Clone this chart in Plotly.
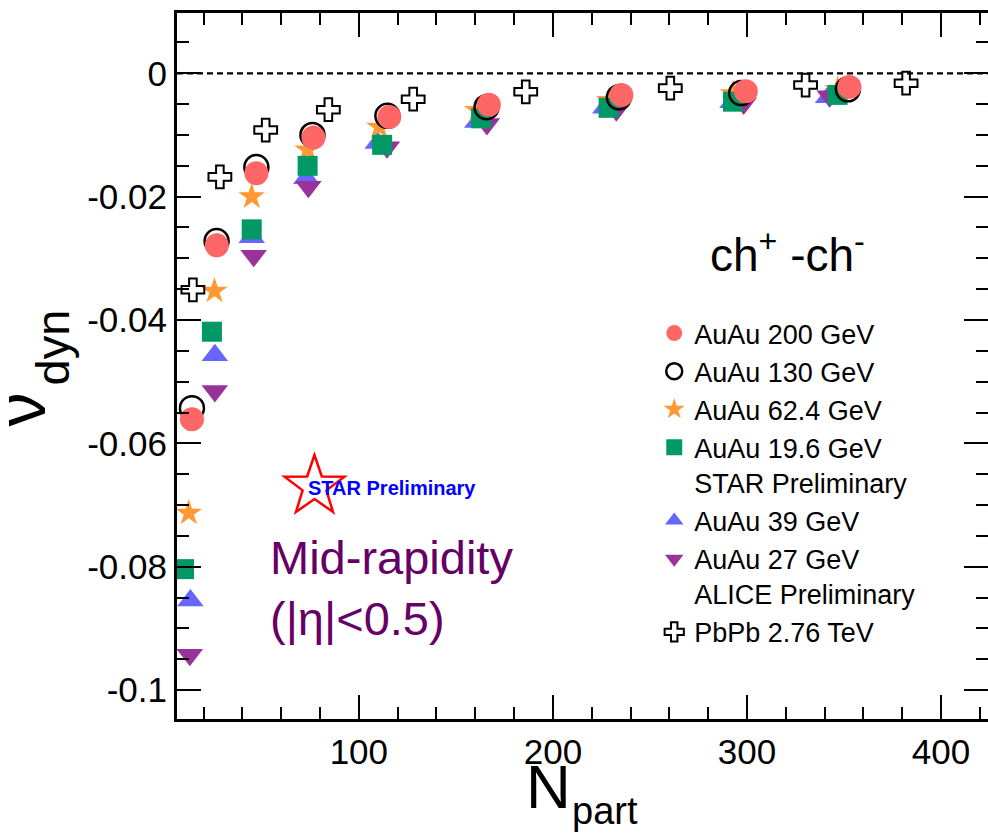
import numpy as np
import plotly.graph_objects as go

# ---------------- data ----------------
npart_200 = [14.0, 26.8, 47.2, 76.6, 115.7, 167.0, 235.3, 299.4, 352.8]
vdyn_200 = [-0.0561, -0.0279, -0.0162, -0.0104, -0.0071, -0.0051, -0.0035, -0.0029, -0.0022]

npart_130 = [14.0, 26.7, 47.2, 76.1, 114.7, 165.8, 234.0, 297.0, 352.0]
vdyn_130 = [-0.0543, -0.0272, -0.0152, -0.0100, -0.0069, -0.0055, -0.0039, -0.0032, -0.0026]

npart_624 = [12.4, 25.6, 44.8, 73.6, 110.5, 161.0, 229.0, 292.8, 346.7]
vdyn_624 = [-0.0713, -0.0353, -0.0200, -0.0124, -0.0087, -0.0060, -0.0044, -0.0033, -0.0026]

npart_196 = [9.9, 24.3, 44.8, 73.6, 112.0, 163.0, 228.7, 292.8, 346.7]
vdyn_196 = [-0.0804, -0.0419, -0.0253, -0.0150, -0.0116, -0.0073, -0.0056, -0.0046, -0.0035]

npart_39 = [13.2, 25.8, 44.8, 72.9, 109.7, 161.0, 227.0, 292.5, 341.8]
vdyn_39 = [-0.0855, -0.0457, -0.0266, -0.0170, -0.0113, -0.0079, -0.0056, -0.0047, -0.0039]

npart_27 = [12.9, 25.8, 45.8, 74.0, 114.5, 166.0, 232.7, 298.3, 342.6]
vdyn_27 = [-0.0943, -0.0515, -0.0296, -0.0184, -0.0120, -0.0082, -0.0060, -0.0049, -0.0037]

npart_pbpb = [14.5, 28.4, 52.0, 84.3, 128.0, 186.0, 260.5, 330.2, 382.0]
vdyn_pbpb = [-0.0351, -0.0168, -0.0092, -0.0059, -0.0042, -0.0030, -0.0024, -0.0019, -0.0016]

x_tickvals = [100, 200, 300, 400]
x_ticktext = ["100", "200", "300", "400"]
y_tickvals = [0, -0.02, -0.04, -0.06, -0.08, -0.1]
y_ticktext = ["0", "-0.02", "-0.04", "-0.06", "-0.08", "-0.1"]

# ---------------- figure ----------------
FONT = "Liberation Sans, Arial, Helvetica, sans-serif"
W, H = 991, 837          # frame's right edge lies just beyond the visible window, as in the reference
ML, MR, MT, MB = 177, 0, 13, 118

fig = go.Figure()

# drawing order: 39, 27, 62.4, 19.6, 130, 200, PbPb ; legend order via legendrank
series = [
    dict(x=npart_39, y=vdyn_39, name="AuAu 39 GeV", rank=5,
         marker=dict(symbol="triangle-up", size=23, color="#6666FF")),
    dict(x=npart_27, y=vdyn_27, name="AuAu 27 GeV<br>ALICE Preliminary", rank=6,
         marker=dict(symbol="triangle-down", size=23, color="#993399")),
    dict(x=npart_624, y=vdyn_624, name="AuAu 62.4 GeV", rank=3,
         marker=dict(symbol="star", size=20, color="#FF9933")),
    dict(x=npart_196, y=vdyn_196, name="AuAu 19.6 GeV<br>STAR Preliminary", rank=4,
         marker=dict(symbol="square", size=20, color="#009966")),
    dict(x=npart_130, y=vdyn_130, name="AuAu 130 GeV", rank=2,
         marker=dict(symbol="circle-open", size=24, color="black", line=dict(width=2.5, color="black"))),
    dict(x=npart_200, y=vdyn_200, name="AuAu 200 GeV", rank=1,
         marker=dict(symbol="circle", size=24, color="#FF6666")),
    dict(x=npart_pbpb, y=vdyn_pbpb, name="PbPb 2.76 TeV", rank=7,
         marker=dict(symbol="cross-open", size=19, color="black", line=dict(width=2, color="black"))),
]
for s in series:
    fig.add_trace(go.Scatter(x=s["x"], y=s["y"], mode="markers", name=s["name"],
                             legendrank=s["rank"], marker=s["marker"]))

# axis ranges (plot frame)
xr = [6.3, 424.2]
yr = [-0.1047, 0.00978]

axis_common = dict(showline=True, linewidth=3, linecolor="black", mirror="ticks",
                   ticks="inside", ticklen=24, tickwidth=2, tickcolor="black",
                   showgrid=False, zeroline=False,
                   tickfont=dict(family=FONT, size=35, color="black"))

fig.update_xaxes(range=xr, tickmode="array", tickvals=x_tickvals, ticktext=x_ticktext,
                 minor=dict(ticks="inside", ticklen=12, tickwidth=2, tickcolor="black",
                            tickvals=list(np.arange(20, 421, 20))),
                 **axis_common)
fig.update_yaxes(range=yr, tickmode="array", tickvals=y_tickvals, ticktext=y_ticktext,
                 minor=dict(ticks="inside", ticklen=12, tickwidth=2, tickcolor="black",
                            tickvals=list(np.round(np.arange(-0.1, 0.0051, 0.005), 4))),
                 **axis_common)

# dashed zero line
fig.add_shape(type="line", xref="paper", yref="y", x0=0, x1=1, y0=0, y1=0,
              line=dict(color="black", width=2.2, dash="6px,4px"))

# STAR logo star (pixel-sized path anchored in paper coords)
def px2paper(px, py):
    return (px - ML) / (W - ML - MR), (H - MB - py) / (H - MT - MB)

R_out, R_in = 31.5, 12.5
pts = []
for k in range(10):
    ang = np.pi / 2 + k * np.pi / 5
    r = R_out if k % 2 == 0 else R_in
    pts.append((r * np.cos(ang), r * np.sin(ang)))
path = "M " + " L ".join(f"{x:.2f},{y:.2f}" for x, y in pts) + " Z"
sx, sy = px2paper(315, 486.5)
fig.add_shape(type="path", xref="paper", yref="paper", xsizemode="pixel", ysizemode="pixel",
              xanchor=sx, yanchor=sy, path=path, line=dict(color="#FF0000", width=2.5),
              fillcolor="white")

def ann(text, px, py, size, color="black", xanchor="center", yanchor="middle", angle=0, align="left"):
    x, y = px2paper(px, py)
    fig.add_annotation(text=text, x=x, y=y, xref="paper", yref="paper", showarrow=False,
                       xanchor=xanchor, yanchor=yanchor, textangle=angle, align=align,
                       font=dict(family=FONT, size=size, color=color))

ann("<b>STAR Preliminary</b>", 306, 488, 20, color="#0000FF", xanchor="left")
ann("Mid-rapidity<br>(|η|<0.5)", 268, 588, 47, color="#660066", xanchor="left")
ann("ch<sup>+</sup> -ch<sup>-</sup>", 790, 252, 46)

# axis titles
ann("N", 550, 786, 62)
ann("part", 571, 811, 38, xanchor="left")
ann("ν", 20, 410, 68, angle=-90)
ann("dyn", 52, 347, 47, angle=-90)

lx, ly = px2paper(656, 309)
fig.update_layout(
    width=W, height=H,
    margin=dict(l=ML, r=MR, t=MT, b=MB, pad=0),
    paper_bgcolor="white", plot_bgcolor="white",
    font=dict(family=FONT, color="black"),
    showlegend=True,
    legend=dict(x=lx, y=ly, xanchor="left", yanchor="top", bgcolor="rgba(0,0,0,0)",
                font=dict(family=FONT, size=27, color="black"), valign="top",
                itemsizing="trace", tracegroupgap=0),
)

fig.write_html("out.html", config={"displayModeBar": False},
               post_script="document.body.style.margin='0';"
                           "document.body.style.overflow='hidden';"
                           "document.documentElement.style.overflow='hidden';")
